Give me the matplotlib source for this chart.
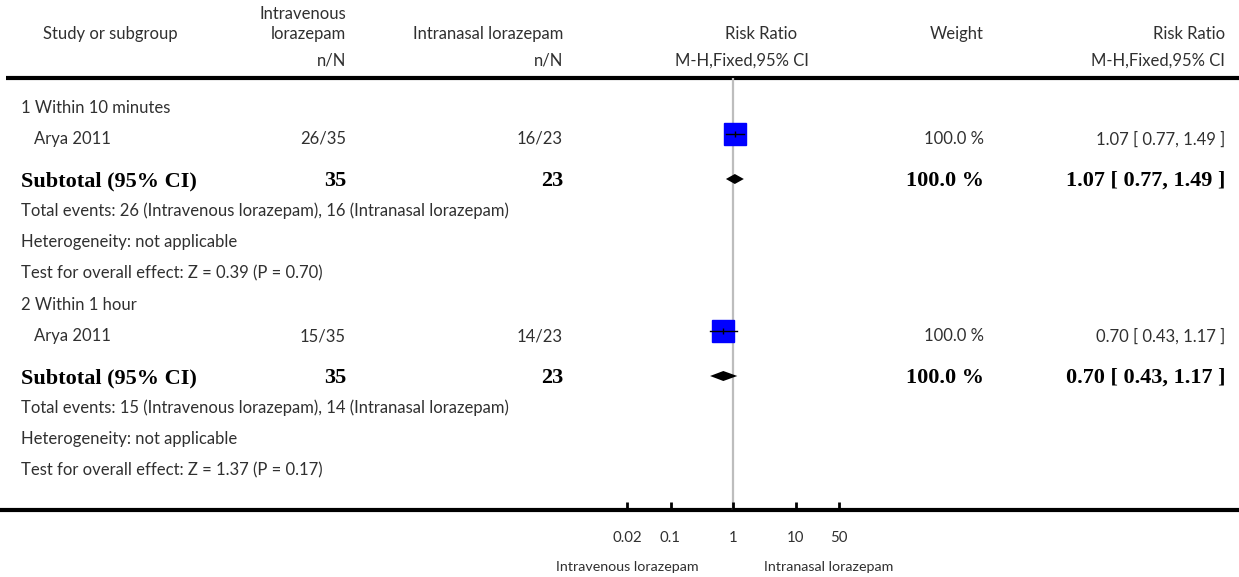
import matplotlib
matplotlib.use("Agg")
import matplotlib.pyplot as plt
import numpy as np

# Data
subgroups = ["1 Within 10 minutes", "2 Within 1 hour"]
studies = ["Arya 2011", "Arya 2011"]
iv_events = [26, 15]
iv_total = [35, 35]
in_events = [16, 14]
in_total = [23, 23]
rr = [1.07, 0.70]
rr_lo = [0.77, 0.43]
rr_hi = [1.49, 1.17]
weights = [100.0, 100.0]
z_vals = [0.39, 1.37]
p_vals = [0.70, 0.17]

tick_vals = [0.02, 0.1, 1, 10, 50]
tick_labels = ["0.02", "0.1", "1", "10", "50"]
left_label = "Intravenous lorazepam"
right_label = "Intranasal lorazepam"

W, H = 1239, 577
LIGHT = dict(family=["Lato", "DejaVu Sans"], weight="normal", color="#303030", fontsize=12.0)
BOLD = dict(family=["Liberation Serif", "DejaVu Serif"], weight="bold", color="black", fontsize=16)

fig = plt.figure(figsize=(W / 100, H / 100), dpi=100)
ax = fig.add_axes([0, 0, 1, 1])
ax.set_xlim(0, W)
ax.set_ylim(H, 0)
ax.axis("off")

# column x positions (pixels)
x_study, x_iv, x_in, x_w, x_ci = 21, 346, 563, 984, 1225
top_rule, bottom_rule = 78, 510

# header
ax.text(110, 34, "Study or subgroup", ha="center", va="center", **LIGHT)
ax.text(x_iv, 14, "Intravenous", ha="right", va="center", **LIGHT)
ax.text(x_iv, 34, "lorazepam", ha="right", va="center", **LIGHT)
ax.text(x_iv, 61, "n/N", ha="right", va="center", **LIGHT)
ax.text(x_in, 34, "Intranasal lorazepam", ha="right", va="center", **LIGHT)
ax.text(x_in, 61, "n/N", ha="right", va="center", **LIGHT)
ax.text(761, 34, "Risk Ratio", ha="center", va="center", **LIGHT)
ax.text(742, 61, "M-H,Fixed,95% CI", ha="center", va="center", **LIGHT)
ax.text(x_w, 34, "Weight", ha="right", va="center", **LIGHT)
ax.text(x_ci, 34, "Risk Ratio", ha="right", va="center", **LIGHT)
ax.text(x_ci, 61, "M-H,Fixed,95% CI", ha="right", va="center", **LIGHT)

ax.plot([6, W], [top_rule, top_rule], color="black", lw=3, solid_capstyle="butt")
ax.plot([0, W], [bottom_rule, bottom_rule], color="black", lw=3, solid_capstyle="butt")

# forest plot axes, y in pixel rows
decade = 62.5
x_one = 733
fx0, fx1 = 560, 910
fax = fig.add_axes([fx0 / W, (H - bottom_rule) / H, (fx1 - fx0) / W, (bottom_rule - top_rule) / H])
fax.set_xscale("log")
fax.set_xlim(10 ** ((fx0 - x_one) / decade), 10 ** ((fx1 - x_one) / decade))
fax.set_ylim(bottom_rule, top_rule)
fax.patch.set_visible(False)
for s in fax.spines.values():
    s.set_visible(False)
fax.set_yticks([])
fax.minorticks_off()
fax.set_xticks(tick_vals)
fax.set_xticklabels(tick_labels)
fax.tick_params(axis="x", direction="in", length=6, width=2, pad=15, color="black")
for t in fax.get_xticklabels():
    t.set_fontfamily(["Lato", "DejaVu Sans"])
    t.set_fontsize(10.8)
    t.set_color("#303030")
fax.axvline(1, color="#bdbdbd", lw=1.6, zorder=0)

small = dict(LIGHT, fontsize=10.3)
fax.annotate(left_label, xy=(1, 567), xycoords="data", xytext=(-25, 0), textcoords="offset points",
             ha="right", va="center", annotation_clip=False, **small)
fax.annotate(right_label, xy=(1, 567), xycoords="data", xytext=(22, 0), textcoords="offset points",
             ha="left", va="center", annotation_clip=False, **small)

# rows per subgroup
group_tops = [108, 305]
for g in range(len(subgroups)):
    y0 = group_tops[g]
    y_study = y0 + 28
    y_sub = y0 + 71
    ax.text(x_study, y0, subgroups[g], ha="left", va="center", **LIGHT)
    ax.text(34, y_study + 3, studies[g], ha="left", va="center", **LIGHT)
    ax.text(x_iv, y_study + 3, f"{iv_events[g]}/{iv_total[g]}", ha="right", va="center", **LIGHT)
    ax.text(x_in, y_study + 3, f"{in_events[g]}/{in_total[g]}", ha="right", va="center", **LIGHT)
    ax.text(x_w, y_study + 3, f"{weights[g]:.1f} %", ha="right", va="center", **LIGHT)
    ax.text(x_ci, y_study + 3, f"{rr[g]:.2f} [ {rr_lo[g]:.2f}, {rr_hi[g]:.2f} ]",
            ha="right", va="center", **LIGHT)

    ax.text(x_study, y_sub + 2, "Subtotal (95% CI)", ha="left", va="center", **BOLD)
    ax.text(x_iv, y_sub + 2, f"{iv_total[g]}", ha="right", va="center", **BOLD)
    ax.text(x_in, y_sub + 2, f"{in_total[g]}", ha="right", va="center", **BOLD)
    ax.text(x_w, y_sub + 2, f"{weights[g]:.1f} %", ha="right", va="center", **BOLD)
    ax.text(x_ci, y_sub + 2, f"{rr[g]:.2f} [ {rr_lo[g]:.2f}, {rr_hi[g]:.2f} ]",
            ha="right", va="center", **BOLD)

    ax.text(x_study, y0 + 103,
            f"Total events: {iv_events[g]} (Intravenous lorazepam), {in_events[g]} (Intranasal lorazepam)",
            ha="left", va="center", **LIGHT)
    ax.text(x_study, y0 + 134, "Heterogeneity: not applicable", ha="left", va="center", **LIGHT)
    ax.text(x_study, y0 + 165, f"Test for overall effect: Z = {z_vals[g]:.2f} (P = {p_vals[g]:.2f})",
            ha="left", va="center", **LIGHT)

    # study square + CI
    fax.plot([rr[g]], [y_study - 2], marker="s", markersize=15.8, color="#0000ff", mec="#0000ff", zorder=3)
    fax.plot([rr_lo[g], rr_hi[g]], [y_study - 2, y_study - 2], color="black", lw=1, zorder=4)
    fax.plot([rr[g]], [y_study - 2], marker="|", markersize=5, color="black", mew=1, zorder=4)
    # subtotal diamond
    yd = y_sub
    fax.fill([rr_lo[g], rr[g], rr_hi[g], rr[g]], [yd, yd - 5, yd, yd + 5], color="black", lw=0, zorder=3)

fig.savefig("out.png", dpi=100)
